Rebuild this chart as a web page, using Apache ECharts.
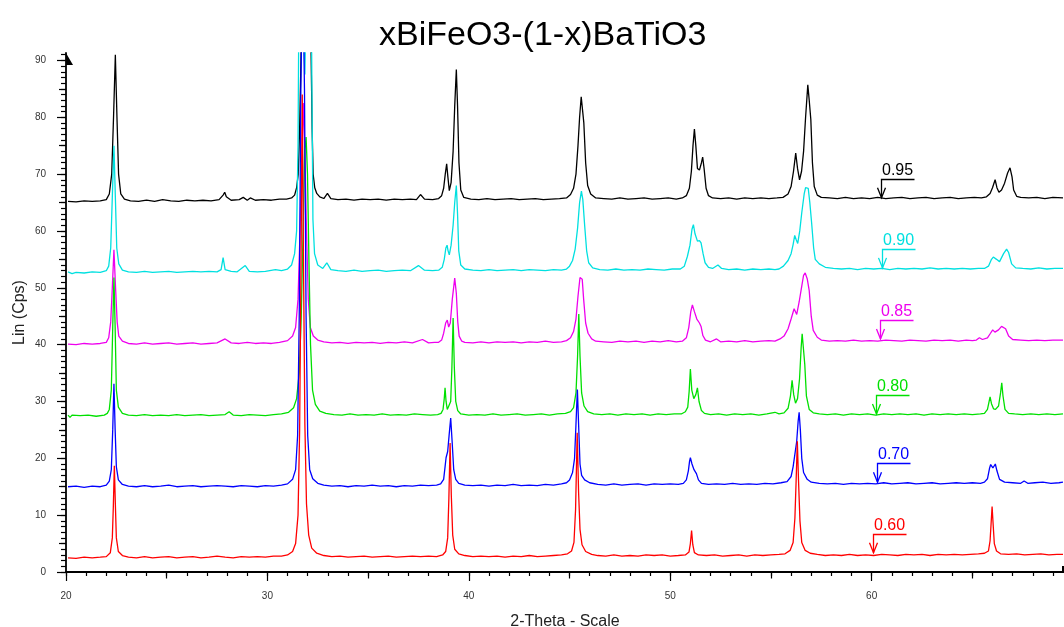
<!DOCTYPE html>
<html>
<head>
<meta charset="utf-8">
<title>xBiFeO3-(1-x)BaTiO3</title>
<script src="https://cdn.jsdelivr.net/npm/echarts@6/dist/echarts.min.js"></script>
<style>
  html, body { margin: 0; padding: 0; background: #fff; }
  #chart { width: 1064px; height: 627px; }
</style>
</head>
<body>
<div id="chart"></div>
<script>
// XRD patterns of xBiFeO3-(1-x)BaTiO3, stacked with vertical offsets: [2theta, counts]
const pattern095 = [[20.1,65.2],[20.5,65.1],[20.9,65.3],[21.3,65.2],[21.7,65.3],[22.0,65.5],
  [22.15,66.5],[22.27,70],[22.36,80],[22.45,91],[22.53,80],[22.61,70],[22.72,66.5],[22.9,65.6],
  [23.2,65.3],[23.6,65.2],[24.0,65.4],[24.4,65.2],[24.8,65.5],[25.2,65.3],[25.6,65.2],[26.0,65.4],[26.4,65.3],[26.8,65.4],[27.2,65.3],[27.6,65.5],[27.8,66.3],[27.88,66.8],[27.96,66.0],[28.2,65.4],[28.6,65.5],[28.8,65.9],[29.0,65.4],[29.15,65.8],[29.4,65.4],[29.8,65.5],[30.2,65.4],[30.6,65.6],[30.95,65.6],
  [31.2,65.8],[31.35,66.3],[31.45,67.6],[31.53,70],[31.6,78],[31.67,91],[31.8,140],[31.92,160],[32.05,140],[32.17,91],[32.22,78],[32.27,70],[32.35,67.6],[32.45,66.6],[32.6,66.0],
  [32.8,65.7],[32.98,66.6],[33.15,65.7],[33.5,65.5],[33.9,65.6],[34.3,65.4],[34.7,65.6],[35.1,65.5],[35.5,65.6],[35.9,65.4],[36.3,65.6],[36.7,65.5],[37.1,65.6],[37.4,65.5],[37.6,66.4],[37.8,65.6],[38.2,65.5],[38.5,65.7],
  [38.65,66.2],[38.75,67.5],[38.83,70],[38.9,71.8],[38.96,69.5],[39.03,67.1],[39.12,68.5],[39.22,74],[39.3,82],[39.38,88.4],[39.44,82],[39.51,72],[39.6,67.2],[39.75,65.9],
  [40.1,65.6],[40.5,65.5],[40.9,65.7],[41.3,65.5],[41.7,65.6],[42.1,65.7],[42.5,65.5],[42.9,65.6],[43.3,65.7],[43.7,65.5],[44.1,65.6],[44.5,65.7],[44.85,65.8],
  [45.05,66.4],[45.2,67.5],[45.32,70],[45.42,75],[45.5,80],[45.58,83.6],[45.64,83.6],[45.71,79],[45.8,72],[45.9,68],[46.05,66.5],[46.3,65.8],
  [46.7,65.7],[47.1,65.6],[47.5,65.8],[47.9,65.6],[48.3,65.7],[48.7,65.8],[49.1,65.6],[49.5,65.7],[49.9,65.8],[50.3,65.6],[50.6,65.8],
  [50.8,66.2],[50.95,67.5],[51.05,70.5],[51.13,75],[51.2,77.9],[51.27,75],[51.35,71],[51.45,70.7],[51.55,72],[51.61,73.0],[51.68,71],[51.78,67.5],[51.9,66.2],[52.1,65.8],
  [52.5,65.7],[52.9,65.8],[53.3,65.6],[53.7,65.8],[54.1,65.7],[54.5,65.8],[54.9,65.7],[55.3,65.8],[55.6,65.9],
  [55.85,66.5],[56.0,67.8],[56.12,70.5],[56.23,73.7],[56.32,71],[56.42,69.0],[56.52,70.5],[56.62,74],[56.72,80],[56.83,85.7],[56.9,83],[56.98,79.6],[57.06,72],[57.15,67.8],[57.3,66.3],[57.5,65.9],
  [57.9,65.8],[58.3,65.7],[58.7,65.9],[59.1,65.7],[59.5,65.8],[59.9,65.7],[60.3,65.9],[60.7,65.7],[61.1,65.8],[61.5,65.9],[61.9,65.7],[62.3,65.8],[62.7,65.9],[63.1,65.7],[63.5,65.8],[63.9,65.9],[64.3,65.7],[64.7,65.8],[65.1,65.9],[65.45,65.8],
  [65.7,66.0],[65.88,66.6],[66.0,67.6],[66.13,69.0],[66.22,67.6],[66.32,66.8],[66.45,67.2],[66.6,68.4],[66.75,70.2],[66.87,71.1],[66.97,69.5],[67.05,67.2],[67.2,66.1],[67.4,65.9],
  [67.8,65.8],[68.2,65.9],[68.6,65.7],[69.0,65.9],[69.5,65.8]];

const pattern090 = [[20.1,52.8],[20.3,52.5],[20.5,52.7],[20.9,52.6],[21.3,52.8],[21.7,52.7],[22.0,53.0],
  [22.12,53.8],[22.22,57],[22.3,66],[22.38,75.0],[22.45,66],[22.52,57],[22.62,54.2],[22.8,53.1],
  [23.1,52.8],[23.5,52.7],[23.9,52.9],[24.3,52.7],[24.7,52.8],[25.1,52.9],[25.5,52.7],[25.9,52.8],[26.3,52.9],[26.7,52.8],[27.1,52.9],[27.5,52.8],[27.7,53.2],[27.8,55.3],[27.9,53.2],[28.2,52.9],[28.5,52.8],[28.9,53.9],[29.1,52.9],[29.5,52.8],[29.9,52.9],[30.4,53.2],[30.7,53.0],[31.0,53.3],
  [31.2,54],[31.35,56],[31.45,60],[31.52,75],[31.58,110],[31.66,125],[31.76,100],[31.86,87.5],[31.96,110],[32.08,132],[32.16,110],[32.21,85],[32.26,62],[32.34,56],[32.5,54],[32.75,53.4],
  [32.95,54.4],[33.15,53.2],[33.5,53.0],[33.9,52.9],[34.3,53.1],[34.7,52.9],[35.1,53.0],[35.5,53.1],[35.9,52.9],[36.3,53.0],[36.7,53.1],[37.1,53.0],[37.5,53.9],[37.8,53.1],[38.2,53.0],
  [38.5,53.1],[38.68,53.6],[38.78,55],[38.86,57],[38.92,57.5],[38.97,56.5],[39.03,55.8],[39.12,57.5],[39.22,61],[39.3,65],[39.38,68.0],[39.44,63],[39.5,56.5],[39.6,54.0],[39.8,53.3],
  [40.2,53.1],[40.6,53.0],[41.0,53.2],[41.4,53.0],[41.8,53.1],[42.2,53.2],[42.6,53.0],[43.0,53.2],[43.4,53.1],[43.8,53.0],[44.2,53.2],[44.6,53.1],
  [44.85,53.3],[45.0,53.8],[45.15,54.8],[45.28,56.8],[45.4,60.5],[45.5,65],[45.59,67.0],[45.66,65.5],[45.75,61],[45.85,56.5],[45.95,54.4],[46.15,53.5],
  [46.5,53.2],[46.9,53.1],[47.3,53.3],[47.7,53.1],[48.1,53.2],[48.5,53.1],[48.9,53.3],[49.3,53.2],[49.7,53.1],[50.1,53.3],[50.5,53.3],
  [50.7,53.8],[50.85,55.5],[50.98,57.5],[51.08,60.3],[51.15,61.1],[51.23,59.5],[51.35,58.2],[51.45,58.3],[51.53,57.9],[51.63,56],[51.73,54.4],[51.9,53.6],[52.1,53.4],[52.37,54.0],[52.55,53.4],
  [52.9,53.2],[53.3,53.3],[53.7,53.1],[54.1,53.3],[54.5,53.2],[54.9,53.3],[55.2,53.2],
  [55.4,53.3],[55.62,53.8],[55.85,54.8],[56.0,56],[56.1,57.6],[56.18,59.2],[56.25,58.5],[56.33,57.8],[56.43,60],[56.53,63.2],[56.65,66.5],[56.72,67.6],[56.85,67.5],[56.93,65],[57.02,61.4],[57.12,57],[57.2,55],[57.4,54.2],[57.7,53.6],
  [58.1,53.4],[58.5,53.3],[58.9,53.4],[59.3,53.2],[59.7,53.4],[60.1,53.3],[60.5,53.4],[60.9,53.2],[61.3,53.4],[61.7,53.3],[62.1,53.4],[62.5,53.3],[62.9,53.5],[63.3,53.3],[63.7,53.4],[64.1,53.3],[64.5,53.4],[64.9,53.3],[65.3,53.4],
  [65.6,53.4],[65.8,53.8],[65.95,55],[66.04,55.4],[66.2,55.0],[66.35,54.6],[66.55,56],[66.7,56.8],[66.8,56.2],[66.95,54.2],[67.15,53.5],
  [67.5,53.4],[67.9,53.3],[68.3,53.5],[68.7,53.3],[69.1,53.4],[69.5,53.4]];

const pattern085 = [[20.1,40.1],[20.5,40.0],[20.9,40.2],[21.3,40.1],[21.7,40.2],[22.0,40.4],
  [22.12,41.2],[22.22,44],[22.3,50],[22.38,56.7],[22.46,50],[22.54,44],[22.62,41.5],[22.8,40.6],
  [23.1,40.2],[23.5,40.1],[23.9,40.3],[24.3,40.1],[24.7,40.2],[25.1,40.3],[25.5,40.1],[25.9,40.2],[26.3,40.3],[26.7,40.1],[27.1,40.2],[27.5,40.3],[27.9,41.0],[28.2,40.3],[28.6,40.2],[29.0,40.4],[29.4,40.2],[29.8,40.3],[30.2,40.2],[30.6,40.4],[31.0,40.7],
  [31.25,41.5],[31.4,43],[31.52,48],[31.62,60],[31.7,72],[31.78,82.5],[31.86,74],[31.94,60],[32.03,48],[32.13,43],[32.28,41.5],[32.5,40.8],[32.8,40.5],
  [33.2,40.3],[33.6,40.4],[34.0,40.2],[34.4,40.4],[34.8,40.3],[35.2,40.4],[35.6,40.2],[36.0,40.4],[36.4,40.3],[36.8,40.5],[37.2,40.3],[37.7,40.9],[38.0,40.3],[38.3,40.4],
  [38.5,40.4],[38.65,40.8],[38.75,42],[38.85,43.8],[38.93,44.3],[39.0,43.1],[39.08,43.8],[39.18,48],[39.3,51.7],[39.38,49],[39.45,44],[39.52,41.5],[39.65,40.6],[39.8,40.4],
  [40.2,40.3],[40.6,40.5],[41.0,40.3],[41.4,40.5],[41.8,40.4],[42.2,40.5],[42.6,40.3],[43.0,40.5],[43.4,40.4],[43.8,40.6],[44.2,40.4],[44.6,40.5],
  [44.85,40.7],[45.05,41.2],[45.2,42.3],[45.32,44.5],[45.42,48.5],[45.52,51.8],[45.57,52.1],[45.63,51.5],[45.7,48],[45.8,43.8],[45.92,42],[46.1,41],[46.3,40.6],
  [46.7,40.5],[47.1,40.4],[47.5,40.6],[47.9,40.5],[48.3,40.6],[48.7,40.4],[49.1,40.6],[49.5,40.5],[49.9,40.7],[50.3,40.5],[50.6,40.6],
  [50.8,41.2],[50.92,43],[51.02,45.8],[51.1,47.0],[51.2,45.8],[51.32,44.5],[51.45,43.8],[51.53,43.2],[51.62,41.6],[51.75,40.8],[52.0,40.5],[52.3,41.0],[52.5,40.5],
  [52.9,40.6],[53.3,40.5],[53.7,40.7],[54.1,40.5],[54.5,40.6],[54.9,40.7],[55.2,40.6],
  [55.45,41.0],[55.65,41.5],[55.85,42.8],[56.0,44.5],[56.15,46.3],[56.28,45.3],[56.4,47.5],[56.53,50.3],[56.62,52.2],[56.7,52.6],[56.8,51.6],[56.9,49.5],[57.0,45],[57.1,42.5],[57.3,41.3],[57.5,40.8],
  [57.9,40.6],[58.3,40.7],[58.7,40.6],[59.1,40.8],[59.5,40.6],[59.9,40.7],[60.3,40.6],[60.7,40.8],[61.1,40.7],[61.5,40.6],[61.9,40.8],[62.3,40.7],[62.7,40.6],[63.1,40.8],[63.5,40.7],[63.9,40.8],[64.3,40.6],[64.7,40.8],[65.0,40.7],
  [65.2,40.8],[65.35,41.2],[65.5,40.9],[65.75,41.2],[65.9,42.0],[66.01,42.6],[66.12,42.2],[66.3,42.6],[66.45,43.2],[66.54,43.4],[66.65,42.8],[66.8,41.5],[67.0,40.9],
  [67.4,40.8],[67.8,40.7],[68.2,40.8],[68.6,40.7],[69.0,40.8],[69.5,40.8]];

const pattern080 = [[20.1,27.6],[20.2,27.2],[20.3,27.6],[20.7,27.5],[21.1,27.6],[21.5,27.4],[21.9,27.6],[22.05,27.9],
  [22.15,28.6],[22.25,32],[22.32,43],[22.38,51.8],[22.44,43],[22.5,32],[22.6,29],[22.8,27.9],
  [23.1,27.6],[23.5,27.5],[23.9,27.7],[24.3,27.5],[24.7,27.6],[25.1,27.5],[25.5,27.7],[25.9,27.5],[26.3,27.6],[26.7,27.7],[27.1,27.5],[27.5,27.6],[27.9,27.7],[28.1,28.2],[28.3,27.6],[28.7,27.5],[29.1,27.7],[29.5,27.6],[29.9,27.5],[30.3,27.7],[30.7,27.8],[31.05,28.1],
  [31.3,28.9],[31.45,30.5],[31.58,35],[31.68,45],[31.77,60],[31.85,74],[31.92,76.5],[31.99,70],[32.06,55],[32.14,40],[32.24,32],[32.38,29.5],[32.6,28.3],[32.9,27.9],
  [33.3,27.7],[33.7,27.6],[34.1,27.8],[34.5,27.6],[34.9,27.7],[35.3,27.6],[35.7,27.8],[36.1,27.6],[36.5,27.7],[36.9,27.6],[37.3,27.8],[37.7,27.7],[38.1,27.6],[38.45,27.7],
  [38.62,27.9],[38.72,28.6],[38.78,30.5],[38.82,32.4],[38.87,30],[38.93,28.6],[39.0,28.4],[39.1,30],[39.16,36],[39.22,44.7],[39.28,36],[39.35,30],[39.45,28.4],[39.6,27.8],
  [40.0,27.6],[40.4,27.7],[40.8,27.6],[41.2,27.8],[41.6,27.6],[42.0,27.7],[42.4,27.8],[42.8,27.6],[43.2,27.7],[43.6,27.8],[44.0,27.6],[44.4,27.8],[44.8,27.9],
  [45.05,28.2],[45.2,28.9],[45.32,31.5],[45.4,38],[45.46,45.4],[45.52,38],[45.6,31.5],[45.72,29.2],[45.9,28.2],
  [46.2,27.8],[46.6,27.7],[47.0,27.8],[47.4,27.6],[47.8,27.8],[48.2,27.7],[48.6,27.8],[49.0,27.6],[49.4,27.8],[49.8,27.7],[50.2,27.8],[50.55,27.8],
  [50.75,28.2],[50.87,29],[50.94,31.8],[51.0,35.7],[51.07,32],[51.17,30.5],[51.27,31.2],[51.35,32.4],[51.43,30],[51.55,28.4],[51.7,27.9],
  [52.0,27.7],[52.4,27.8],[52.8,27.6],[53.2,27.8],[53.6,27.7],[54.0,27.8],[54.4,27.6],[54.8,27.8],[55.2,28.1],[55.4,27.8],[55.65,28.0],
  [55.85,28.8],[55.97,31],[56.05,33.7],[56.13,31.2],[56.22,29.7],[56.32,30.5],[56.42,34],[56.5,39.5],[56.55,41.9],[56.62,39],[56.68,36.5],[56.76,31],[56.9,28.6],[57.1,28.0],
  [57.4,27.8],[57.8,27.7],[58.2,27.8],[58.6,27.6],[59.0,27.8],[59.4,27.7],[59.8,27.8],[60.2,27.6],[60.6,27.8],[61.0,27.7],[61.4,27.8],[61.8,27.7],[62.2,27.8],[62.6,27.6],[63.0,27.8],[63.4,27.7],[63.8,27.8],[64.2,27.7],[64.6,27.8],[65.0,27.7],[65.4,27.8],
  [65.6,27.9],[65.75,28.6],[65.82,29.8],[65.88,30.8],[65.95,29.6],[66.05,28.7],[66.15,28.6],[66.3,29.2],[66.4,31.5],[66.46,33.3],[66.52,31],[66.62,28.6],[66.8,27.9],
  [67.1,27.8],[67.5,27.7],[67.9,27.8],[68.3,27.7],[68.7,27.8],[69.1,27.7],[69.5,27.8]];

const pattern070 = [[20.1,15.0],[20.5,15.1],[20.9,14.9],[21.3,15.1],[21.7,15.0],[22.0,15.3],
  [22.15,16.0],[22.25,18],[22.32,25],[22.38,33.1],[22.44,25],[22.5,18.5],[22.6,16.2],[22.8,15.4],
  [23.1,15.1],[23.5,15.0],[23.9,15.2],[24.3,15.0],[24.7,15.1],[25.1,15.3],[25.5,15.0],[25.9,15.1],[26.3,15.2],[26.7,15.0],[27.1,15.1],[27.5,15.2],[27.9,15.1],[28.3,15.0],[28.7,15.2],[29.1,15.1],[29.5,15.0],[29.9,15.2],[30.3,15.1],[30.7,15.3],[31.0,15.5],
  [31.25,16.3],[31.4,18],[31.5,24],[31.58,45],[31.66,85],[31.75,108],[31.84,85],[31.92,45],[32.0,24],[32.1,18],[32.25,16.4],[32.5,15.6],[32.8,15.3],
  [33.2,15.1],[33.6,15.2],[34.0,15.0],[34.4,15.2],[34.8,15.1],[35.2,15.3],[35.6,15.1],[36.0,15.2],[36.4,15.0],[36.8,15.2],[37.2,15.1],[37.6,15.3],[38.0,15.2],[38.4,15.3],
  [38.6,15.5],[38.75,16.3],[38.82,18.5],[38.87,20.1],[38.95,21.2],[39.02,24],[39.1,27.1],[39.17,23],[39.25,18],[39.35,16.3],[39.5,15.6],[39.8,15.3],
  [40.2,15.2],[40.6,15.3],[41.0,15.1],[41.4,15.3],[41.8,15.2],[42.2,15.4],[42.6,15.2],[43.0,15.3],[43.4,15.2],[43.8,15.4],[44.2,15.3],[44.6,15.5],
  [44.85,15.7],[45.0,16.2],[45.15,17.5],[45.25,20],[45.32,26],[45.39,32.1],[45.45,26],[45.52,19],[45.6,17],[45.75,16.2],[46.0,15.7],
  [46.4,15.4],[46.8,15.3],[47.2,15.5],[47.6,15.3],[48.0,15.4],[48.4,15.5],[48.8,15.3],[49.2,15.5],[49.6,15.4],[50.0,15.5],[50.4,15.4],[50.65,15.6],
  [50.8,16.2],[50.9,17.8],[50.96,19.5],[51.0,20.1],[51.08,19.0],[51.18,18.0],[51.3,17.3],[51.4,16.2],[51.55,15.6],
  [51.9,15.4],[52.3,15.5],[52.7,15.4],[53.1,15.6],[53.5,15.4],[53.9,15.5],[54.3,15.4],[54.7,15.6],[55.1,15.5],[55.5,15.7],
  [55.8,15.9],[56.0,16.8],[56.1,18.5],[56.2,21],[56.28,23],[56.35,26.5],[56.4,28.1],[56.46,25],[56.53,20],[56.62,17.5],[56.8,16.3],[57.0,15.8],
  [57.4,15.6],[57.8,15.5],[58.2,15.6],[58.6,15.4],[59.0,15.6],[59.4,15.5],[59.8,15.6],[60.2,15.5],[60.6,15.7],[61.0,15.5],[61.4,15.6],[61.8,15.7],[62.2,15.5],[62.6,15.6],[63.0,15.7],[63.4,15.5],[63.8,15.6],[64.2,15.7],[64.6,15.6],[65.0,15.7],[65.4,15.6],
  [65.6,15.8],[65.75,16.4],[65.85,18.2],[65.91,18.9],[66.02,18.3],[66.14,19.0],[66.22,17.8],[66.35,16.3],[66.6,15.8],
  [67.0,15.7],[67.4,15.6],[67.57,16.0],[67.75,15.6],[68.1,15.7],[68.5,15.8],[68.9,15.6],[69.3,15.7],[69.5,15.8]];

const pattern060 = [[20.1,2.5],[20.5,2.4],[20.9,2.6],[21.3,2.5],[21.7,2.6],[22.0,2.7],
  [22.2,3.4],[22.3,6.0],[22.35,11.5],[22.4,18.7],[22.45,12.0],[22.5,6.0],[22.6,3.6],[22.8,2.9],
  [23.1,2.6],[23.5,2.5],[23.9,2.7],[24.3,2.5],[24.7,2.6],[25.1,2.7],[25.5,2.5],[25.9,2.6],[26.3,2.7],[26.7,2.5],[27.1,2.6],[27.5,2.8],[27.9,2.6],[28.3,2.5],[28.7,2.7],[29.1,2.6],[29.5,2.7],[29.9,2.6],[30.3,2.8],[30.7,2.8],[31.0,3.0],
  [31.25,3.6],[31.4,5.0],[31.52,10],[31.6,25],[31.67,55],[31.73,84],[31.79,55],[31.86,26],[31.94,12],[32.05,6.5],[32.2,4.2],[32.45,3.3],[32.8,2.9],
  [33.2,2.7],[33.6,2.8],[34.0,2.6],[34.4,2.7],[34.8,2.8],[35.2,2.6],[35.6,2.7],[36.0,2.8],[36.4,2.6],[36.8,2.7],[37.2,2.8],[37.6,2.7],[38.0,2.8],[38.4,2.7],
  [38.7,3.0],[38.85,3.6],[38.95,6.0],[39.01,13],[39.07,22.7],[39.13,13.5],[39.2,6.5],[39.3,4.0],[39.5,3.2],[39.8,2.9],
  [40.2,2.7],[40.6,2.8],[41.0,2.7],[41.4,2.8],[41.8,2.6],[42.2,2.8],[42.6,2.7],[43.0,2.9],[43.4,2.7],[43.8,2.8],[44.2,2.9],[44.6,3.0],
  [44.9,3.2],[45.1,3.7],[45.22,5.2],[45.3,11],[45.38,24.5],[45.45,14],[45.52,7.5],[45.62,4.8],[45.8,3.6],[46.1,3.1],
  [46.4,2.9],[46.8,2.8],[47.2,3.0],[47.6,2.8],[48.0,2.9],[48.4,2.8],[48.8,3.0],[49.2,2.9],[49.6,3.0],[50.0,2.8],[50.4,2.9],[50.75,3.0],
  [50.93,3.5],[51.0,5.0],[51.06,7.3],[51.12,4.8],[51.2,3.4],[51.4,3.0],
  [51.8,2.9],[52.2,3.0],[52.6,2.8],[53.0,2.9],[53.4,3.0],[53.8,2.8],[54.2,3.0],[54.6,2.9],[55.0,3.0],[55.4,3.1],[55.7,3.2],
  [55.95,3.8],[56.1,5.2],[56.19,9.5],[56.25,16],[56.31,23],[56.37,16],[56.44,9],[56.53,5.2],[56.7,3.8],[56.95,3.3],
  [57.3,3.1],[57.7,2.9],[58.1,3.0],[58.5,2.9],[58.9,3.1],[59.3,2.9],[59.7,3.0],[60.1,2.9],[60.5,3.1],[60.9,3.0],[61.3,2.9],[61.7,3.1],[62.1,3.0],[62.5,3.1],[62.9,2.9],[63.3,3.1],[63.7,3.0],[64.1,3.1],[64.5,3.0],[64.9,3.1],[65.3,3.2],[65.6,3.3],
  [65.8,3.7],[65.88,5.5],[65.93,8.5],[65.98,11.5],[66.03,8.5],[66.09,5.0],[66.2,3.7],[66.4,3.2],
  [66.8,3.1],[67.2,3.2],[67.6,3.0],[68.0,3.1],[68.4,3.2],[68.8,3.0],[69.2,3.1],[69.5,3.1]];

// composition labels and the point each label's arrow marks on its pattern
const compositions = ['0.95', '0.90', '0.85', '0.80', '0.70', '0.60'];
const labelTips = [[60.45, 65.85], [60.5, 53.5], [60.42, 41.0], [60.22, 27.8], [60.28, 15.8], [60.08, 3.4]];

// axis ticks
const xTickLabels = [20, 30, 40, 50, 60];
const yTickLabels = [0, 10, 20, 30, 40, 50, 60, 70, 80, 90];
const X_MIN = 20, X_MAX = 69.55;
const Y_MIN = 0, Y_MAX = 91.3;

const patterns = [pattern095, pattern090, pattern085, pattern080, pattern070, pattern060];
const colors = ['#000000', '#00e0e0', '#ee00ee', '#00e000', '#0000ff', '#ff0000'];
const FONT = '"Liberation Sans", Arial, Helvetica, sans-serif';

const xMid = [], xMinor = [], yMid = [], yMinor = [];
for (let v = 25; v < X_MAX; v += 10) xMid.push(v);
for (let v = 20; v < X_MAX; v += 1) xMinor.push(v);
for (let v = 5; v < Y_MAX; v += 10) yMid.push(v);
for (let v = 0; v < Y_MAX; v += 1) yMinor.push(v);

const tickStyle = { color: '#000', width: 1.2 };

function xAxisLayer(ticks, len, main) {
  return {
    type: 'value', min: X_MIN, max: X_MAX, position: 'bottom', gridIndex: 0,
    axisLine: { show: main, onZero: false, lineStyle: { color: '#000', width: 1.8 } },
    axisTick: { show: true, length: len, customValues: ticks, lineStyle: tickStyle },
    axisLabel: main ? { show: true, customValues: xTickLabels, margin: 19, fontSize: 10, color: '#333', fontFamily: FONT }
                    : { show: false },
    splitLine: { show: false },
    name: main ? '2-Theta - Scale' : '',
    nameLocation: 'middle', nameGap: 42, nameMoveOverlap: false,
    nameTextStyle: { fontSize: 16, color: '#222', fontFamily: FONT }
  };
}
function yAxisLayer(ticks, len, main) {
  return {
    type: 'value', min: Y_MIN, max: Y_MAX, position: 'left', gridIndex: 0,
    axisLine: { show: main, onZero: false, lineStyle: { color: '#000', width: 1.8 } },
    axisTick: { show: true, length: len, customValues: ticks, lineStyle: tickStyle },
    axisLabel: main ? { show: true, customValues: yTickLabels, margin: 20, fontSize: 10, color: '#333', fontFamily: FONT }
                    : { show: false },
    splitLine: { show: false },
    name: main ? 'Lin (Cps)' : '',
    nameLocation: 'middle', nameGap: 38, nameRotate: 90, nameMoveOverlap: false,
    nameTextStyle: { fontSize: 16, color: '#222', fontFamily: FONT }
  };
}

const lineSeries = patterns.map((data, i) => ({
  type: 'line', name: compositions[i], data: data,
  xAxisIndex: 0, yAxisIndex: 0,
  showSymbol: false, symbol: 'none', clip: true, silent: true,
  lineStyle: { color: colors[i], width: 1.3 },
  z: 2
}));

const labelSeries = {
  type: 'custom', coordinateSystem: 'cartesian2d', xAxisIndex: 0, yAxisIndex: 0,
  data: labelTips, silent: true, clip: false, z: 5,
  renderItem: function (params, api) {
    const i = params.dataIndex;
    const p = api.coord([api.value(0), api.value(1)]);
    const c = colors[i];
    const x = Math.round(p[0]) + 0.5, y = p[1], top = Math.round(y - 19) + 0.5;
    return {
      type: 'group',
      children: [
        { type: 'polyline', shape: { points: [[x, y], [x, top], [x + 33, top]] },
          style: { stroke: c, lineWidth: 1.3, fill: null } },
        { type: 'polyline', shape: { points: [[x - 4, y - 10], [x, y], [x + 4, y - 10]] },
          style: { stroke: c, lineWidth: 1.3, fill: null } },
        { type: 'text', x: x + 0.5, y: top - 9,
          style: { text: compositions[i], fill: c, font: '16px ' + FONT, align: 'left', verticalAlign: 'middle' } }
      ]
    };
  }
};

const chart = echarts.init(document.getElementById('chart'), null, { renderer: 'canvas' });
chart.setOption({
  animation: false,
  backgroundColor: '#ffffff',
  title: {
    text: 'xBiFeO3-(1-x)BaTiO3', left: 374, top: 14,
    textStyle: { fontSize: 34, fontWeight: 'normal', color: '#000', fontFamily: FONT }
  },
  grid: { left: 66, right: 0, top: 53, bottom: 55, containLabel: false, outerBoundsMode: 'none' },
  xAxis: [xAxisLayer(xTickLabels, 9, true), xAxisLayer(xMid, 6.5, false), xAxisLayer(xMinor, 4, false)],
  yAxis: [yAxisLayer(yTickLabels, 9, true), yAxisLayer(yMid, 7, false), yAxisLayer(yMinor, 5, false)],
  series: lineSeries.concat([labelSeries])
});

// arrow heads at the ends of the two axis lines
const topLeft = chart.convertToPixel({ xAxisIndex: 0, yAxisIndex: 0 }, [X_MIN, Y_MAX]);
const bottomRight = chart.convertToPixel({ xAxisIndex: 0, yAxisIndex: 0 }, [X_MAX, Y_MIN]);
chart.setOption({
  graphic: [
    { type: 'polygon', z: 100,
      shape: { points: [[topLeft[0], topLeft[1]], [topLeft[0] + 7, topLeft[1] + 12], [topLeft[0], topLeft[1] + 12]] },
      style: { fill: '#000' } },
    { type: 'rect', z: 100,
      shape: { x: bottomRight[0] - 2, y: bottomRight[1] - 6, width: 2, height: 6 },
      style: { fill: '#000' } }
  ]
});
</script>
</body>
</html>
